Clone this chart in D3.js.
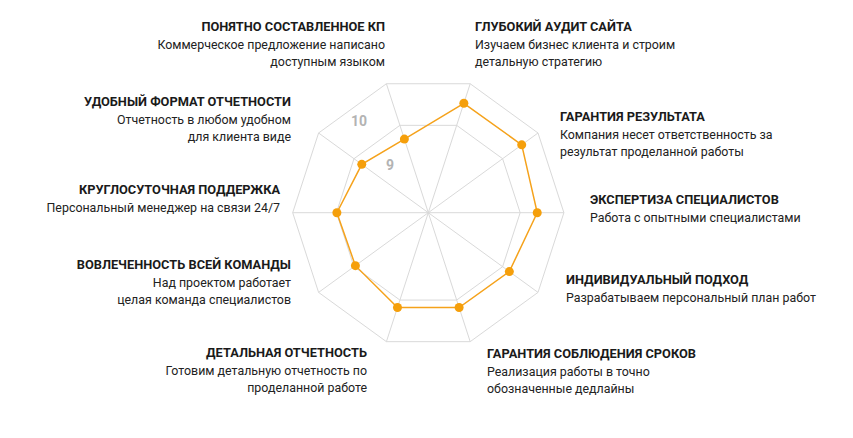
<!DOCTYPE html>
<html><head><meta charset="utf-8">
<script src="https://cdn.jsdelivr.net/npm/d3@7"></script>
<style>body{margin:0;background:#fff}</style></head>
<body><svg id="c" width="853" height="438"></svg>
<script>
const axisAngles = [72, 36, 0, -36, -72, -108, -144, 180, 144, 108];
const values = [9.53, 9.54, 9.39, 9.19, 9.18, 9.18, 8.96, 8.99, 8.78, 8.67];
const titles = ["ГЛУБОКИЙ АУДИТ САЙТА","ГАРАНТИЯ РЕЗУЛЬТАТА","ЭКСПЕРТИЗА СПЕЦИАЛИСТОВ","ИНДИВИДУАЛЬНЫЙ ПОДХОД","ГАРАНТИЯ СОБЛЮДЕНИЯ СРОКОВ","ДЕТАЛЬНАЯ ОТЧЕТНОСТЬ","ВОВЛЕЧЕННОСТЬ ВСЕЙ КОМАНДЫ","КРУГЛОСУТОЧНАЯ ПОДДЕРЖКА","УДОБНЫЙ ФОРМАТ ОТЧЕТНОСТИ","ПОНЯТНО СОСТАВЛЕННОЕ КП"];
const descs = [["Изучаем бизнес клиента и строим","детальную стратегию"],["Компания несет ответственность за","результат проделанной работы"],["Работа с опытными  специалистами"],["Разрабатываем персональный план работ"],["Реализация работы в точно","обозначенные дедлайны"],["Готовим детальную отчетность по","проделанной работе"],["Над проектом работает","целая команда специалистов"],["Персональный менеджер на связи 24/7"],["Отчетность в любом удобном","для клиента виде"],["Коммерческое предложение написано","доступным языком"]];
const ringValues = [9, 10];
const labelPos = [[475,28,"start"],[560,118,"start"],[590,201,"start"],[566,281,"start"],[487,355,"start"],[367,354,"end"],[291,266,"end"],[280,191,"end"],[291,103,"end"],[385,28,"end"]];

const svg = d3.select("#c");
const cx = 428.3, cy = 212.7;
const r = d3.scaleLinear().domain([6.9, 10]).range([0, 135.6]);
const pt = (a, v) => [cx + r(v)*Math.cos(a*Math.PI/180), cy - r(v)*Math.sin(a*Math.PI/180)];
const g = svg.append("g");
ringValues.forEach(rv => {
  g.append("polygon").attr("points", axisAngles.map(a => pt(a, rv).join(",")).join(" "))
   .attr("fill","none").attr("stroke","#d9d9d9").attr("stroke-width",1);
});
axisAngles.forEach(a => {
  const p = pt(a, 10);
  g.append("line").attr("x1",cx).attr("y1",cy).attr("x2",p[0]).attr("y2",p[1]).attr("stroke","#d9d9d9");
});
g.append("text").attr("x",359).attr("y",122).text("10");
g.append("text").attr("x",390).attr("y",166).text("9");
g.selectAll("text").attr("font-family","Roboto, sans-serif").attr("font-weight",700).attr("font-size",14)
 .attr("fill","#b3b3b3").attr("text-anchor","middle").attr("dominant-baseline","middle");
const pts = values.map((v,i) => pt(axisAngles[i], v));
g.append("polygon").attr("points", pts.map(p=>p.join(",")).join(" ")).attr("fill","none").attr("stroke","#f5a21b").attr("stroke-width",1.5);
g.selectAll("circle").data(pts).join("circle").attr("cx",d=>d[0]).attr("cy",d=>d[1]).attr("r",4.5).attr("fill","#f59f0b");

titles.forEach((t,i) => {
  const [x,y,anc] = labelPos[i];
  svg.append("text").attr("x",x).attr("y",y).attr("text-anchor",anc).attr("dominant-baseline","middle")
    .attr("font-family","Roboto, sans-serif").attr("font-weight",700).attr("font-size",12.8)
    .attr("fill","#1a1a1a").text(t);
  descs[i].forEach((d,j) => {
    svg.append("text").attr("x",x).attr("y",y+18+17*j).attr("text-anchor",anc).attr("dominant-baseline","middle")
      .attr("font-family","Roboto, sans-serif").attr("font-size",12.4).attr("fill","#222").text(d);
  });
});
</script></body></html>
